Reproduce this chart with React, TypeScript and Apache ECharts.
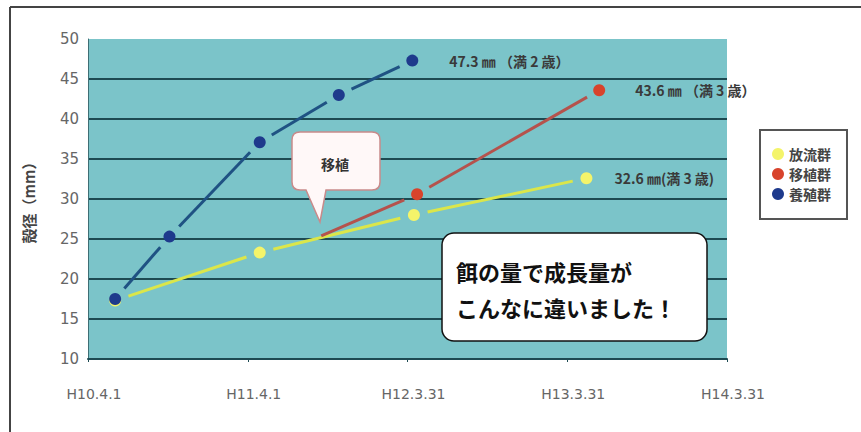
import React, { useEffect, useRef } from "react";
import * as echarts from "echarts";

// ---- data ----
const xTickLabels = ["H10.4.1", "H11.4.1", "H12.3.31", "H13.3.31", "H14.3.31"];
const seriesNames = ["放流群", "移植群", "養殖群"];
// x in years from H10.4.1
const releasedX = [0.17, 1.075, 2.04, 3.12];
const releasedY = [17.3, 23.3, 28.0, 32.6];
const transplantX = [1.46, 2.06, 3.2];
const transplantY = [25.4, 30.6, 43.6];
const transplantMarked = [false, true, true];
const culturedX = [0.17, 0.51, 1.075, 1.57, 2.03];
const culturedY = [17.5, 25.3, 37.1, 43.0, 47.3];
const endLabels = ["32.6 ㎜(満 3 歳)", "43.6 ㎜ （満 3 歳）", "47.3 ㎜ （満 2 歳）"];

const groups = [
  { name: seriesNames[0], xs: releasedX, ys: releasedY, marked: releasedX.map(() => true), line: "#dbe64a", marker: "#f4f46a", label: endLabels[0], dist: 22 },
  { name: seriesNames[1], xs: transplantX, ys: transplantY, marked: transplantMarked, line: "#b5524c", marker: "#d8432c", label: endLabels[1], dist: 30 },
  { name: seriesNames[2], xs: culturedX, ys: culturedY, marked: culturedX.map(() => true), line: "#1f5283", marker: "#1e3a8c", label: endLabels[2], dist: 31 },
];

const calloutPath =
  "M8 0 H80 Q88 0 88 8 V50 Q88 58 80 58 H34 L28 90 L14 58 H8 Q0 58 0 50 V8 Q0 0 8 0 Z";
echarts.graphic.registerShape("callout", echarts.graphic.extendPath(calloutPath, {}));

const GAP = 14;

export default function App() {
  const ref = useRef<HTMLDivElement>(null);
  useEffect(() => {
    if (!ref.current) return;
    const chart = echarts.init(ref.current, undefined, { renderer: "svg" });

    const lineSeries: any[] = groups.map((g, gi) => {
      const segs: number[][] = [];
      for (let i = 1; i < g.xs.length; i++) {
        segs.push([g.xs[i - 1], g.ys[i - 1], g.xs[i], g.ys[i], g.marked[i - 1] ? GAP : 0, g.marked[i] ? GAP : 0]);
      }
      return {
        type: "custom",
        name: "line-" + gi,
        z: 2,
        encode: { x: [0, 2], y: [1, 3] },
        data: segs,
        renderItem: (params: any, api: any) => {
          const p0 = api.coord([api.value(0), api.value(1)]);
          const p1 = api.coord([api.value(2), api.value(3)]);
          const g0 = api.value(4);
          const g1 = api.value(5);
          const dx = p1[0] - p0[0];
          const dy = p1[1] - p0[1];
          const len = Math.sqrt(dx * dx + dy * dy);
          const ux = dx / len;
          const uy = dy / len;
          return {
            type: "line",
            shape: {
              x1: p0[0] + ux * g0,
              y1: p0[1] + uy * g0,
              x2: p1[0] - ux * g1,
              y2: p1[1] - uy * g1,
            },
            style: { stroke: g.line, lineWidth: 3, lineCap: "butt" },
          };
        },
      };
    });

    const markerSeries: any[] = groups.map((g, gi) => ({
      type: "scatter",
      name: g.name,
      z: gi === 2 ? 4 : 3,
      symbol: "circle",
      symbolSize: 12,
      itemStyle: { color: g.marker, opacity: 1 },
      data: g.xs.map((x, i) => {
        const item: any = { value: [x, g.ys[i]] };
        if (!g.marked[i]) item.symbol = "none";
        if (i === g.xs.length - 1) {
          item.label = {
            show: true,
            position: "right",
            distance: g.dist,
            formatter: g.label,
            color: "#3a3a3a",
            fontSize: 14,
            fontWeight: "bold",
            fontFamily: "Noto Sans CJK JP",
          };
        }
        return item;
      }),
    }));

    chart.setOption({
      animation: false,
      backgroundColor: "#ffffff",
      grid: {
        left: 88,
        top: 39,
        right: 134,
        bottom: 73,
        show: true,
        backgroundColor: "#7bc4c9",
        borderWidth: 0,
      },
      legend: {
        orient: "vertical",
        left: 760,
        top: 130,
        data: seriesNames,
        icon: "circle",
        itemWidth: 12,
        itemHeight: 12,
        itemGap: 6,
        borderColor: "#555555",
        borderWidth: 2,
        backgroundColor: "#ffffff",
        padding: [17, 16, 18, 12],
        textStyle: { fontSize: 14, fontWeight: "bold", color: "#444444", fontFamily: "Noto Sans CJK JP" },
      },
      xAxis: {
        type: "value",
        min: 0,
        max: 4,
        interval: 1,
        axisLine: { show: true, lineStyle: { color: "#1d4a52", width: 2 } },
        axisTick: { show: true, length: 3, inside: false, lineStyle: { color: "#1d4a52" } },
        splitLine: { show: false },
        axisLabel: {
          formatter: (v: number) => xTickLabels[Math.round(v)] ?? "",
          color: "#666666",
          fontSize: 14,
          fontFamily: "DejaVu Sans",
          margin: 28,
          padding: [0, 0, 0, 12],
          showMaxLabel: true,
          showMinLabel: true,
        },
      },
      yAxis: {
        type: "value",
        min: 10,
        max: 50,
        interval: 5,
        name: "殻径（mm）",
        nameLocation: "middle",
        nameGap: 52,
        nameRotate: 90,
        nameTextStyle: { fontSize: 15, fontWeight: "bold", color: "#444444", fontFamily: "Noto Sans CJK JP" },
        axisLine: { show: true, lineStyle: { color: "#3d6e74", width: 1 } },
        axisTick: { show: false },
        splitLine: { show: true, showMaxLine: false, lineStyle: { color: "#1d4a52", width: 2 } },
        axisLabel: { color: "#666666", fontSize: 15, fontFamily: "DejaVu Sans", margin: 9 },
      },
      graphic: [
        { type: "line", z: 100, shape: { x1: 10, y1: 7, x2: 861, y2: 7 }, style: { stroke: "#444444", lineWidth: 2 } },
        { type: "line", z: 100, shape: { x1: 10, y1: 7, x2: 10, y2: 432 }, style: { stroke: "#444444", lineWidth: 2 } },
        {
          type: "callout",
          z: 100,
          x: 292,
          y: 132,
          style: { fill: "#fff8f8", stroke: "#c98a8a", lineWidth: 1.5 },
        },
        {
          type: "text",
          z: 101,
          x: 335,
          y: 164,
          style: {
            text: "移植",
            fill: "#333333",
            font: "bold 14px 'Noto Sans CJK JP'",
            textAlign: "center",
            textVerticalAlign: "middle",
          },
        },
        {
          type: "rect",
          z: 100,
          shape: { x: 442, y: 233, width: 265, height: 108, r: 12 },
          style: { fill: "#ffffff", stroke: "#111111", lineWidth: 1.5 },
        },
        {
          type: "text",
          z: 101,
          x: 456,
          y: 271,
          style: {
            text: "餌の量で成長量が",
            fill: "#111111",
            font: "bold 22px 'Noto Sans CJK JP'",
            textAlign: "left",
            textVerticalAlign: "middle",
          },
        },
        {
          type: "text",
          z: 101,
          x: 456,
          y: 307,
          style: {
            text: "こんなに違いました！",
            fill: "#111111",
            font: "bold 22px 'Noto Sans CJK JP'",
            textAlign: "left",
            textVerticalAlign: "middle",
          },
        },
      ],
      series: [...lineSeries, ...markerSeries],
    });

    return () => chart.dispose();
  }, []);

  return (
    <div
      ref={ref}
      style={{ position: "fixed", left: 0, top: 0, width: 861, height: 432 }}
    />
  );
}
